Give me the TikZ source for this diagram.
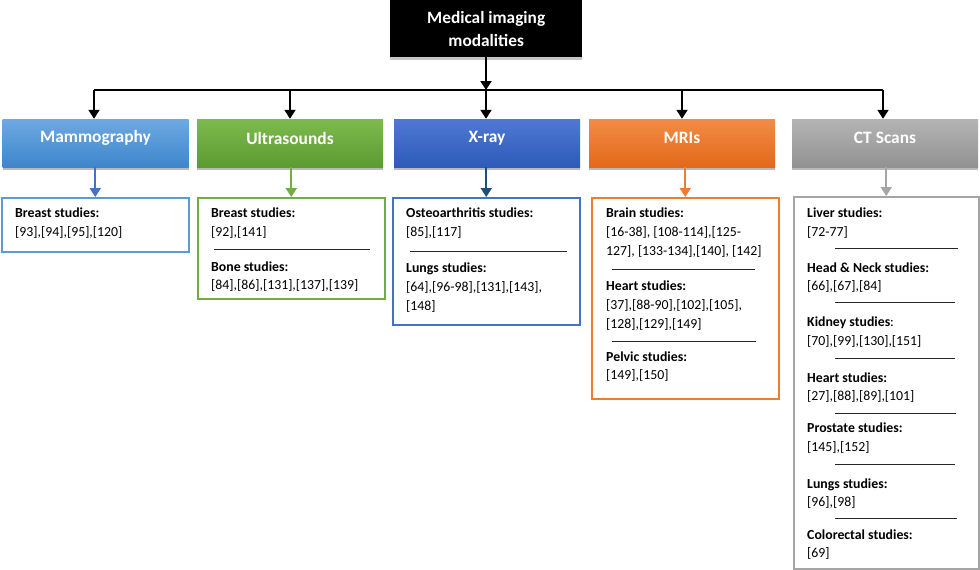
\documentclass[tikz,border=0pt]{standalone}
\usepackage{fontspec}
\setmainfont{Carlito}
\usetikzlibrary{arrows.meta,shadows}
\definecolor{mamA}{HTML}{6EA9E2}\definecolor{mamB}{HTML}{3E86CB}
\definecolor{ultA}{HTML}{7DBB4E}\definecolor{ultB}{HTML}{5C9B30}
\definecolor{xraA}{HTML}{4E78D3}\definecolor{xraB}{HTML}{2E5BB9}
\definecolor{mriA}{HTML}{F28C45}\definecolor{mriB}{HTML}{E2691A}
\definecolor{ctA}{HTML}{B4B4B4}\definecolor{ctB}{HTML}{929292}
\definecolor{mamL}{HTML}{5B9BD5}\definecolor{mamArr}{HTML}{4472C4}
\definecolor{ultL}{HTML}{70AD47}
\definecolor{xraL}{HTML}{4472C4}\definecolor{xraArr}{HTML}{1F4E79}
\definecolor{mriL}{HTML}{ED7D31}
\definecolor{ctL}{HTML}{A5A5A5}
\tikzset{
  hbox/.style={minimum width=186pt, minimum height=48pt, inner sep=0pt,
    drop shadow={shadow xshift=0pt, shadow yshift=-3pt, opacity=.55}},
  htxt/.style={text=white, font=\bfseries\fontsize{17.4}{20}\selectfont, inner sep=0pt},
  cbox/.style={draw, line width=1.5pt, fill=white, inner sep=0pt, anchor=north west},
  txt/.style={anchor=base west, inner sep=0pt, font=\fontsize{13.8}{15}\selectfont},
  blk/.style={line width=1.8pt, -{Triangle[length=9pt,width=11pt]}},
  carr/.style={line width=2pt, -{Triangle[length=9pt,width=11pt]}},
  sep/.style={line width=0.9pt, black!85},
}
\newcommand{\tl}[4]{\node[txt] (#1) at (#2,#3) {#4};}
\begin{document}
\begin{tikzpicture}[x=1pt,y=-1pt]
\useasboundingbox (0,0) rectangle (980,570);
% top box
\node[fill=black, minimum width=192pt, minimum height=57pt, inner sep=0pt, anchor=north west,
  drop shadow={shadow xshift=0pt, shadow yshift=-3pt, opacity=.45}] (top) at (390,0) {};
\node[text=white, font=\bfseries\fontsize{17.3}{23}\selectfont, align=center, inner sep=0pt] (topt) at (top.center) {Medical imaging\\modalities};
% header boxes
\node[hbox, top color=mamA, bottom color=mamB] (mam) at (95.5,143) {};
\node[hbox, top color=ultA, bottom color=ultB] (ult) at (290,143) {};
\node[hbox, top color=xraA, bottom color=xraB] (xra) at (487,143) {};
\node[hbox, top color=mriA, bottom color=mriB] (mri) at (682,143) {};
\node[hbox, top color=ctA, bottom color=ctB] (ct) at (885,143) {};
\node[htxt] (mamt) at (95.5,138) {Mammography};
\node[htxt] (ultt) at (290,138) {Ultrasounds};
\node[htxt] (xrat) at (487,138) {X-ray};
\node[htxt] (mrit) at (682,138) {MRIs};
\node[htxt] (ctt) at (885,138) {CT Scans};
% bus
\coordinate (busL) at (94,90);
\coordinate (busR) at (883,90);
\coordinate (busC) at (486,90);
\draw[blk] (top.south -| busC) -- (busC);
\draw[line width=1.8pt] (busL) -- (busR);
\draw[blk] (busL) -- (busL |- mam.north);
\draw[blk] (busL -| ult.north) -- (ult.north);
\draw[blk] (busC) -- (busC |- xra.north);
\draw[blk] (busL -| mri.north) -- (mri.north);
\draw[blk] (busR) -- (busR |- ct.north);
% content boxes
\node[cbox, draw=mamL, minimum width=187pt, minimum height=54pt] (mamc) at (1,197) {};
\node[cbox, draw=ultL, minimum width=187pt, minimum height=101pt] (ultc) at (197,197) {};
\node[cbox, draw=xraL, minimum width=187pt, minimum height=127pt] (xrac) at (392,197) {};
\node[cbox, draw=mriL, minimum width=187pt, minimum height=201pt] (mric) at (591,197) {};
\node[cbox, draw=ctL, minimum width=185pt, minimum height=372pt] (ctc) at (793,196) {};
% colored arrows
\draw[carr, mamArr] (mam.south -| mamc.north) -- (mamc.north);
\draw[carr, ultL] (ult.south -| ultc.north) -- (ultc.north);
\draw[carr, xraArr] (xra.south -| xrac.north) -- (xrac.north);
\draw[carr, mriL] (mri.south -| mric.north) -- (mric.north);
\draw[carr, ctL] (ct.south -| ctc.north) -- (ctc.north);
% Mammography
\tl{m1}{15}{217}{\textbf{Breast studies:}}
\tl{m2}{15}{236}{[93],[94],[95],[120]}
% Ultrasounds
\tl{u1}{211}{217}{\textbf{Breast studies:}}
\tl{u2}{211}{236}{[92],[141]}
\draw[sep] (214,249) -- (370,249);
\tl{u3}{211}{271}{\textbf{Bone studies:}}
\tl{u4}{211}{289}{[84],[86],[131],[137],[139]}
% X-ray
\tl{x1}{406}{217}{\textbf{Osteoarthritis studies:}}
\tl{x2}{406}{236}{[85],[117]}
\draw[sep] (410,251) -- (567,251);
\tl{x3}{406}{272}{\textbf{Lungs studies:}}
\tl{x4}{406}{291}{[64],[96-98],[131],[143],}
\tl{x5}{406}{310}{[148]}
% MRIs
\tl{r1}{606}{217}{\textbf{Brain studies:}}
\tl{r2}{606}{236}{[16-38], [108-114],[125-}
\tl{r3}{606}{255}{127], [133-134],[140], [142]}
\draw[sep] (612,269) -- (755,269);
\tl{r4}{606}{290}{\textbf{Heart studies:}}
\tl{r5}{606}{309}{[37],[88-90],[102],[105],}
\tl{r6}{606}{328}{[128],[129],[149]}
\draw[sep] (612,341) -- (756,341);
\tl{r7}{606}{361}{\textbf{Pelvic studies:}}
\tl{r8}{606}{379}{[149],[150]}
% CT
\tl{c1}{807}{217}{\textbf{Liver studies:}}
\tl{c2}{807}{236}{[72-77]}
\draw[sep] (835,248) -- (958,248);
\tl{c3}{807}{272}{\textbf{Head \& Neck studies:}}
\tl{c4}{807}{290}{[66],[67],[84]}
\draw[sep] (835,302) -- (955,302);
\tl{c5}{807}{326}{\textbf{Kidney studies}:}
\tl{c6}{807}{345}{[70],[99],[130],[151]}
\draw[sep] (835,358) -- (955,358);
\tl{c7}{807}{382}{\textbf{Heart studies:}}
\tl{c8}{807}{400}{[27],[88],[89],[101]}
\draw[sep] (835,413) -- (956,413);
\tl{c9}{807}{432}{\textbf{Prostate studies:}}
\tl{c10}{807}{451}{[145],[152]}
\draw[sep] (835,464) -- (955,464);
\tl{c11}{807}{488}{\textbf{Lungs studies:}}
\tl{c12}{807}{506}{[96],[98]}
\draw[sep] (835,518) -- (957,518);
\tl{c13}{807}{539}{\textbf{Colorectal studies:}}
\tl{c14}{807}{557}{[69]}
\end{tikzpicture}
\end{document}
